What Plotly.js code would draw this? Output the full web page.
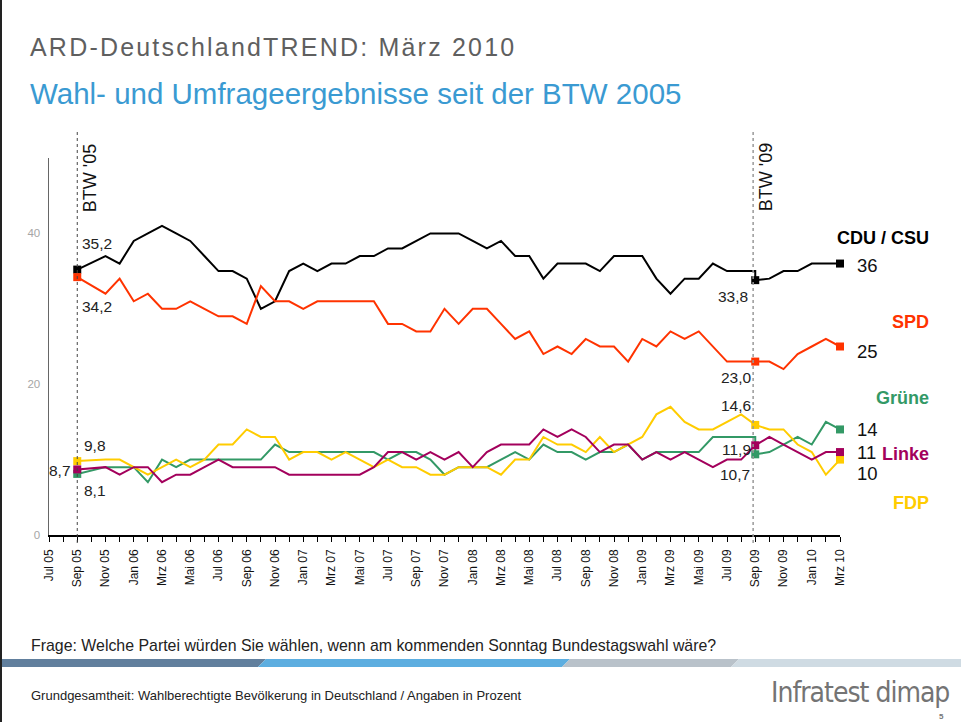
<!DOCTYPE html>
<html>
<head>
<meta charset="utf-8">
<script src="https://cdn.plot.ly/plotly-3.0.1.min.js"></script>
<style>
  html, body { margin: 0; padding: 0; background: #fff; }
  #chart { width: 961px; height: 722px; }
</style>
</head>
<body>
<div id="chart"></div>
<script>
// ---------- DATA ----------
const months = ["Jul 05","Aug 05","Sep 05","Okt 05","Nov 05","Dez 05",
  "Jan 06","Feb 06","Mrz 06","Apr 06","Mai 06","Jun 06","Jul 06","Aug 06","Sep 06","Okt 06","Nov 06","Dez 06",
  "Jan 07","Feb 07","Mrz 07","Apr 07","Mai 07","Jun 07","Jul 07","Aug 07","Sep 07","Okt 07","Nov 07","Dez 07",
  "Jan 08","Feb 08","Mrz 08","Apr 08","Mai 08","Jun 08","Jul 08","Aug 08","Sep 08","Okt 08","Nov 08","Dez 08",
  "Jan 09","Feb 09","Mrz 09","Apr 09","Mai 09","Jun 09","Jul 09","Aug 09","Sep 09","Okt 09","Nov 09","Dez 09",
  "Jan 10","Feb 10","Mrz 10"];

const parties = ["CDU / CSU", "SPD", "Grüne", "Linke", "FDP"];
const partyColors = ["#000000", "#FF3300", "#339966", "#A3005C", "#FFCC00"];

// election results
const btw05Result = [35.2, 34.2, 8.1, 8.7, 9.8];
const btw09Result = [33.8, 23.0, 10.7, 11.9, 14.6];

// polls Nov 05 .. Sep 09 (before the 2009 election)
const cduPolls    = [37,36,39,40,41,40,39,37,35,35,34,30,31,35,36,35,36,36,37,37,38,38,39,40,40,40,39,38,39,37,37,34,36,36,36,35,37,37,37,34,32,34,34,36,35,35,35];
const spdPolls    = [32,34,31,32,30,30,31,30,29,29,28,33,31,31,30,31,31,31,31,31,28,28,27,27,30,28,30,30,28,26,27,24,25,24,26,25,25,23,26,25,27,26,27,25,23,23,23];
const gruenePolls = [9,9,9,7,10,9,10,10,10,10,10,10,12,11,11,11,11,11,11,11,10,11,11,10,8,9,9,9,10,11,10,12,11,11,10,11,11,12,10,11,11,11,11,13,13,13,13];
const linkePolls  = [9,8,9,9,7,8,8,9,10,9,9,9,9,8,8,8,8,8,8,9,11,11,10,11,10,11,9,11,12,12,12,14,13,14,13,11,12,12,10,11,10,11,10,9,10,10,null];
const fdpPolls    = [10,10,9,8,9,10,9,10,12,12,14,13,13,10,11,11,10,11,10,9,10,9,9,8,8,9,9,9,8,10,10,13,12,12,11,13,11,12,13,16,17,15,14,14,15,16,null];

// polls Okt 09 .. Mrz 10 (after the 2009 election)
const cduAfter    = [34,35,35,36,36,36];
const spdAfter    = [23,22,24,25,26,25];
const grueneAfter = [11,12,13,12,15,14];
const linkeAfter  = [13,12,11,10,11,11];
const fdpAfter    = [14,14,12,11,8,10];

const electionMonths = ["Sep 05", "Sep 09"];
const pollMonths  = months.slice(months.indexOf("Nov 05"), months.indexOf("Sep 09") + 1);
const afterMonths = months.slice(months.indexOf("Okt 09"));

// ---------- BUILD ----------
const idx = m => months.indexOf(m);
const pollSets  = [cduPolls, spdPolls, gruenePolls, linkePolls, fdpPolls];
const afterSets = [cduAfter, spdAfter, grueneAfter, linkeAfter, fdpAfter];
const fmt = v => v.toFixed(1).replace(".", ",");

const drawOrder = [0, 1, 2, 4, 3];
const traces = [];
drawOrder.forEach(i => {
  const x = [idx(electionMonths[0])].concat(pollMonths.map(idx), [idx(electionMonths[1])], afterMonths.map(idx));
  const y = [btw05Result[i]].concat(pollSets[i], [btw09Result[i]], afterSets[i]);
  traces.push({
    type: "scatter", mode: "lines", x: x, y: y, connectgaps: true,
    line: { color: partyColors[i], width: 2 }, hoverinfo: "skip", showlegend: false
  });
});
drawOrder.forEach(i => {
  const last = afterSets[i][afterSets[i].length - 1];
  traces.push({
    type: "scatter", mode: "markers",
    x: [idx(electionMonths[0]), idx(electionMonths[1]), idx(afterMonths[afterMonths.length - 1])],
    y: [btw05Result[i], btw09Result[i], last],
    marker: { symbol: "square", size: 8, color: partyColors[i] },
    cliponaxis: false, hoverinfo: "skip", showlegend: false
  });
});

// pixel helpers (plot area: left 49, top 158, width 791, height 377)
const ML = 49, MT = 158, PW = 791, PH = 377;
const px = p => (p - ML) / PW;
const py = p => (MT + PH - p) / PH;

const FONT = "Liberation Sans, Arial, sans-serif";
const ann = [];

// titles
ann.push({ xref: "paper", yref: "paper", x: px(28), y: py(47), xanchor: "left", yanchor: "middle",
  text: "ARD-DeutschlandTREND: März 2010", showarrow: false,
  font: { family: FONT, size: 25, color: "#5f5f5f" } });
ann.push({ xref: "paper", yref: "paper", x: px(28), y: py(93.5), xanchor: "left", yanchor: "middle",
  text: "Wahl- und Umfrageergebnisse seit der BTW 2005", showarrow: false,
  font: { family: FONT, size: 29.5, color: "#3A9AD2" } });

// BTW labels
ann.push({ x: idx(electionMonths[0]), y: py(178), yref: "paper", xshift: 13, yanchor: "middle",
  text: "BTW '05", textangle: -90, showarrow: false, font: { family: FONT, size: 18, color: "#111" } });
ann.push({ x: idx(electionMonths[1]), y: py(177), yref: "paper", xshift: 11, yanchor: "middle",
  text: "BTW '09", textangle: -90, showarrow: false, font: { family: FONT, size: 18, color: "#111" } });

// election result labels
const lab05 = [ {xa:"left", xs:3, ys:26}, {xa:"left", xs:3, ys:-29}, {xa:"left", xs:5, ys:-16.5},
                {xa:"right", xs:-4, ys:-1.5}, {xa:"left", xs:5, ys:16} ];
const lab09 = [ {xs:-5, ys:-16}, {xs:-1.5, ys:-16}, {xs:-3, ys:-20}, {xs:-2, ys:-4}, {xs:-2.5, ys:19} ];
for (let i = 0; i < 5; i++) {
  ann.push({ x: idx(electionMonths[0]), y: btw05Result[i], text: fmt(btw05Result[i]), showarrow: false,
    xanchor: lab05[i].xa, yanchor: "middle", xshift: lab05[i].xs, yshift: lab05[i].ys,
    font: { family: FONT, size: 15.5, color: "#222" } });
  ann.push({ x: idx(electionMonths[1]), y: btw09Result[i], text: fmt(btw09Result[i]), showarrow: false,
    xanchor: "right", yanchor: "middle", xshift: lab09[i].xs, yshift: lab09[i].ys,
    font: { family: FONT, size: 15.5, color: "#222" } });
}

// end values
const endShift = [-1.5, -5, 0, 0, -14];
for (let i = 0; i < 5; i++) {
  const last = afterSets[i][afterSets[i].length - 1];
  ann.push({ x: idx(afterMonths[afterMonths.length - 1]), y: last, text: String(Math.round(last)), showarrow: false,
    xanchor: "left", yanchor: "middle", xshift: 15, yshift: endShift[i],
    font: { family: FONT, size: 18.5, color: "#111" } });
}

// party names
const nameY = [237.5, 322, 397.5, 454, 503];
for (let i = 0; i < 5; i++) {
  ann.push({ xref: "paper", yref: "paper", x: px(931), y: py(nameY[i]), xanchor: "right", yanchor: "middle",
    text: "<b>" + parties[i] + "</b>", showarrow: false,
    font: { family: FONT, size: 18, color: partyColors[i] } });
}

// footer texts
ann.push({ xref: "paper", yref: "paper", x: px(29), y: py(645), xanchor: "left", yanchor: "middle",
  text: "Frage: Welche Partei würden Sie wählen, wenn am kommenden Sonntag Bundestagswahl wäre?",
  showarrow: false, font: { family: FONT, size: 15.9, color: "#222" } });
ann.push({ xref: "paper", yref: "paper", x: px(29), y: py(695), xanchor: "left", yanchor: "middle",
  text: "Grundgesamtheit: Wahlberechtigte Bevölkerung in Deutschland / Angaben in Prozent",
  showarrow: false, font: { family: FONT, size: 13, color: "#222" } });
ann.push({ xref: "paper", yref: "paper", x: px(951), y: py(692), xanchor: "right", yanchor: "middle",
  text: "Infratest dimap", showarrow: false,
  font: { family: "DejaVu Sans Condensed, Liberation Sans Narrow, sans-serif", size: 28, color: "#747474" } });
ann.push({ xref: "paper", yref: "paper", x: px(941), y: py(716), xanchor: "center", yanchor: "middle",
  text: "<b>5</b>", showarrow: false, font: { family: FONT, size: 8, color: "#777" } });

// shapes
const shapes = [
  { type: "line", xref: "x", yref: "paper", x0: idx(electionMonths[0]), x1: idx(electionMonths[0]),
    y0: py(543), y1: py(130), line: { color: "#444", width: 1, dash: "dot" } },
  { type: "line", xref: "x", yref: "paper", x0: idx(electionMonths[1]) - 0.15, x1: idx(electionMonths[1]) - 0.15,
    y0: py(543), y1: py(130), line: { color: "#999", width: 1.5, dash: "dot" } },
  { type: "line", xref: "paper", yref: "paper", x0: px(1), x1: px(1), y0: py(0), y1: py(722),
    line: { color: "#222", width: 2 } }
];
const bandTop = py(659), bandBot = py(667);
const band = [
  { x0: 2, x1: 262, c: "#617F9D" },
  { x0: 262, x1: 566, c: "#5DAEE0" },
  { x0: 566, x1: 735, c: "#B9C2CA" },
  { x0: 735, x1: 961, c: "#CFDBE3" }
];
band.forEach((b, k) => {
  const s0 = k === 0 ? 0 : 4, s1 = k === band.length - 1 ? 0 : 4;
  const path = "M " + px(b.x0 - s0) + " " + bandBot + " L " + px(b.x0 + s0) + " " + bandTop +
               " L " + px(b.x1 + s1) + " " + bandTop + " L " + px(b.x1 - s1) + " " + bandBot + " Z";
  shapes.push({ type: "path", xref: "paper", yref: "paper", path: path,
    fillcolor: b.c, line: { width: 0 }, layer: "below" });
});

const layout = {
  width: 961, height: 722,
  margin: { l: ML, r: 961 - ML - PW, t: MT, b: 722 - MT - PH, pad: 0 },
  paper_bgcolor: "#fff", plot_bgcolor: "#fff",
  showlegend: false,
  font: { family: FONT },
  xaxis: {
    range: [0, months.length - 1], tickmode: "array",
    tickvals: months.map((m, i) => i),
    ticktext: months.map((m, i) => (i % 2 === 0 ? m : "")),
    tickangle: -90, ticks: "outside", ticklen: 5, tickwidth: 1, tickcolor: "#000",
    showline: true, linecolor: "#000", linewidth: 1.5, ticklabelstandoff: 3,
    showgrid: false, zeroline: false, fixedrange: true,
    tickfont: { family: FONT, size: 12, color: "#111" }
  },
  yaxis: {
    range: [0, 50], tickmode: "array", tickvals: [0, 20, 40], ticktext: ["0", "20", "40"],
    ticks: "", showline: true, linecolor: "#666", linewidth: 1.5,
    showgrid: false, zeroline: false, fixedrange: true, ticklabelstandoff: 5,
    tickfont: { family: FONT, size: 11.5, color: "#a6a6a6" }
  },
  annotations: ann,
  shapes: shapes
};

function spaceText(startsWith, spacing, keep) {
  document.querySelectorAll(".annotation-text").forEach(t => {
    if (t.textContent.indexOf(startsWith) !== 0) return;
    const b0 = t.getBBox();
    t.setAttribute("letter-spacing", String(spacing));
    const b1 = t.getBBox();
    const dx = keep === "left" ? (b0.x - b1.x) : ((b0.x + b0.width) - (b1.x + b1.width));
    const x = parseFloat(t.getAttribute("x") || "0");
    t.setAttribute("x", String(x + dx));
    t.querySelectorAll("tspan[x]").forEach(s => s.setAttribute("x", String(parseFloat(s.getAttribute("x")) + dx)));
  });
}

Plotly.newPlot("chart", traces, layout, { displayModeBar: false, staticPlot: true }).then(() => {
  spaceText("ARD-Deutschland", 2.2, "left");
  spaceText("Infratest", -1.0, "right");
});
</script>
</body>
</html>
